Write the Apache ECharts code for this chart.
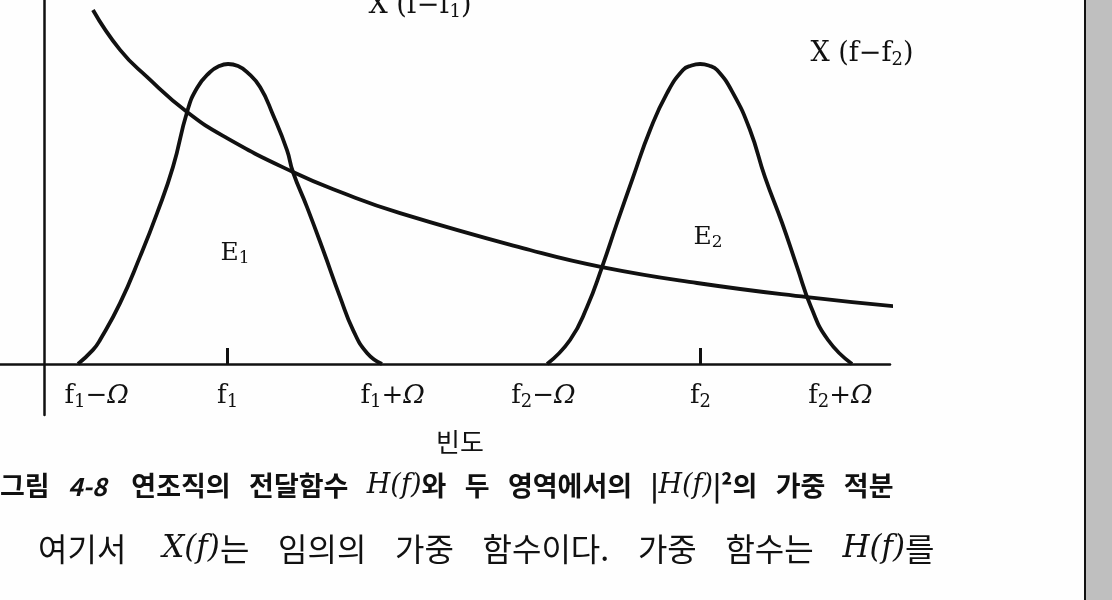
<!DOCTYPE html>
<html>
<head>
<meta charset="utf-8">
<script src="https://cdn.jsdelivr.net/npm/echarts@6/dist/echarts.min.js"></script>
<style>
  html, body { margin: 0; padding: 0; background: #fefefe; }
  #chart { width: 1112px; height: 600px; }
</style>
</head>
<body>
<div id="chart"></div>
<script>
// frequency in units of Ω, measured from the vertical axis; amplitude in % of the peak
const bandCenters = [1.2, 4.29];
const labelValues = [0.2, 1.2, 2.2, 3.29, 4.29, 5.29];
const labelTexts = ['f₁−Ω', 'f₁', 'f₁+Ω', 'f₂−Ω', 'f₂', 'f₂+Ω'];

const band1X = [0.222, 0.32, 0.366, 0.497, 0.627, 0.739, 0.843, 0.935, 1.0, 1.085, 1.144, 1.203,
                1.268, 1.327, 1.412, 1.497, 1.588, 1.627, 1.719, 1.824, 1.935, 2.02, 2.111, 2.209];
const band1Y = [0, 4.7, 8.0, 20.3, 35.7, 50.3, 65.7, 84.0, 92.0, 97.3, 99.3, 100,
                99.3, 97.3, 92.3, 83.0, 71.3, 64.0, 52.3, 38.0, 22.3, 11.3, 3.7, 0];

const band2X = [3.288, 3.438, 3.549, 3.647, 3.745, 3.85, 3.961, 4.072, 4.176, 4.232, 4.288,
                4.344, 4.399, 4.503, 4.614, 4.712, 4.824, 4.922, 5.013, 5.124, 5.281];
const band2Y = [0, 8.0, 19.0, 32.3, 47.0, 62.3, 78.0, 90.3, 98.0, 99.5, 100,
                99.5, 98.0, 90.3, 78.0, 62.3, 47.0, 32.3, 19.0, 8.0, 0];

const weightX = [0.32, 0.497, 0.673, 0.935, 1.196, 1.627, 1.954, 2.327, 3.176, 3.647, 4.268, 4.987, 5.608];
const weightY = [118.0, 104.7, 95.7, 84.0, 75.3, 64.0, 57.0, 50.3, 38.0, 32.3, 27.0, 22.3, 19.0];

// nudges of the tick labels as typeset in the book (px)
const labelShift = [22, 0, 12, -4, 0, -13];

const ink = '#111';
const serif = 'DejaVu Serif';
const pairs = (xs, ys) => xs.map((x, i) => [x, ys[i]]);

// 'f₁−Ω' -> rich tokens with a real subscript and an italic Ω
const SUB = { '₁': '1', '₂': '2' };
const toRich = (t) => {
  let out = '', buf = '';
  const flush = () => { if (buf) { out += '{n|' + buf + '}'; buf = ''; } };
  for (const ch of t) {
    if (SUB[ch]) { flush(); out += '{s|' + SUB[ch] + '}'; }
    else if (ch === 'Ω') { flush(); out += '{o|Ω}'; }
    else buf += ch;
  }
  flush();
  return out;
};

const mathRich = (size) => ({
  n: { fontFamily: serif, fontSize: size, color: ink, fill: ink, lineHeight: size + 4 },
  s: { fontFamily: serif, fontSize: Math.round(size * 0.68), color: ink, fill: ink,
       lineHeight: Math.round(size * 0.68), verticalAlign: 'bottom' },
  o: { fontFamily: serif, fontSize: size, color: ink, fill: ink, fontStyle: 'italic', lineHeight: size + 4 }
});

const axisRich = mathRich(26);
labelShift.forEach((s, i) => {
  axisRich['gl' + i] = { width: Math.max(0, 2 * s), fontSize: 10 };
  axisRich['gr' + i] = { width: Math.max(0, -2 * s), fontSize: 10 };
});

const curve = (data, extra) => Object.assign({
  type: 'line',
  data: data,
  symbol: 'none',
  smooth: 0.5,
  lineStyle: { color: ink, width: 3.8 },
  silent: true
}, extra || {});

const chart = echarts.init(document.getElementById('chart'));
chart.setOption({
  backgroundColor: '#fefefe',
  animation: false,
  grid: { left: 0, top: 0, width: 890, height: 415, containLabel: false, outerBoundsMode: 'none' },
  xAxis: {
    type: 'value',
    min: -0.2876,
    max: 5.529,
    axisLine: { show: true, onZero: true, lineStyle: { color: ink, width: 2.5 } },
    axisTick: { show: true, inside: true, length: 16, customValues: bandCenters,
                lineStyle: { color: ink, width: 3 } },
    axisLabel: {
      show: true,
      customValues: labelValues,
      margin: -34,
      formatter: (v) => {
        let i = 0;
        labelValues.forEach((lv, k) => { if (Math.abs(lv - v) < Math.abs(labelValues[i] - v)) i = k; });
        const s = labelShift[i];
        return (s > 0 ? '{gl' + i + '| }' : '') + toRich(labelTexts[i]) + (s < 0 ? '{gr' + i + '| }' : '');
      },
      rich: axisRich
    },
    splitLine: { show: false }
  },
  yAxis: {
    type: 'value',
    min: -17,
    max: 121.333,
    axisLine: { show: true, onZero: true, lineStyle: { color: ink, width: 2.5 } },
    axisTick: { show: false },
    axisLabel: { show: false },
    splitLine: { show: false }
  },
  series: [
    curve(pairs(band1X, band1Y)),
    curve(pairs(band2X, band2Y)),
    curve(pairs(weightX, weightY), { clip: false })
  ],
  graphic: [
    { type: 'rect', shape: { x: 1085, y: 0, width: 27, height: 600 },
      style: { fill: '#bfbfbf', stroke: null } },
    { type: 'line', shape: { x1: 1085, y1: 0, x2: 1085, y2: 600 },
      style: { stroke: '#111', lineWidth: 2 } },
    { type: 'text', x: 420, y: 6,
      style: { text: toRich('X (f−f₁)'), rich: mathRich(27),
               textAlign: 'center', textVerticalAlign: 'middle' } },
    { type: 'text', x: 862, y: 54,
      style: { text: toRich('X (f−f₂)'), rich: mathRich(27),
               textAlign: 'center', textVerticalAlign: 'middle' } },
    { type: 'text', x: 235, y: 253,
      style: { text: toRich('E₁'), rich: mathRich(25),
               textAlign: 'center', textVerticalAlign: 'middle' } },
    { type: 'text', x: 708, y: 237,
      style: { text: toRich('E₂'), rich: mathRich(25),
               textAlign: 'center', textVerticalAlign: 'middle' } },
    { type: 'text', x: 460, y: 442,
      style: { text: '빈도', fontFamily: 'Noto Sans CJK KR', fontSize: 26, fill: ink,
               textAlign: 'center', textVerticalAlign: 'middle' } },
    { type: 'text', x: 0, y: 486,
      style: {
        text: '{k|그림   }{b|4-8}{k|    연조직의   전달함수   }{h|H(f)}{k|와   두   영역에서의   |}{h|H(f)}{k||²의   가중   적분}',
        textAlign: 'left', textVerticalAlign: 'middle',
        rich: {
          k: { fontFamily: 'Noto Sans CJK KR', fontWeight: 'bold', fontSize: 27, fill: ink },
          b: { fontFamily: 'Noto Sans CJK KR', fontWeight: 'bold', fontStyle: 'italic', fontSize: 25, fill: ink },
          h: { fontFamily: serif, fontStyle: 'italic', fontSize: 27, fill: ink }
        }
      } },
    { type: 'text', x: 38, y: 549,
      style: {
        text: '{k|여기서     }{h|X(f)}{k|는    임의의    가중    함수이다.    가중    함수는    }{h|H(f)}{k|를}',
        textAlign: 'left', textVerticalAlign: 'middle',
        rich: {
          k: { fontFamily: 'Noto Sans CJK KR', fontSize: 32, fill: ink },
          h: { fontFamily: serif, fontStyle: 'italic', fontSize: 31, fill: ink }
        }
      } }
  ]
});
</script>
</body>
</html>
